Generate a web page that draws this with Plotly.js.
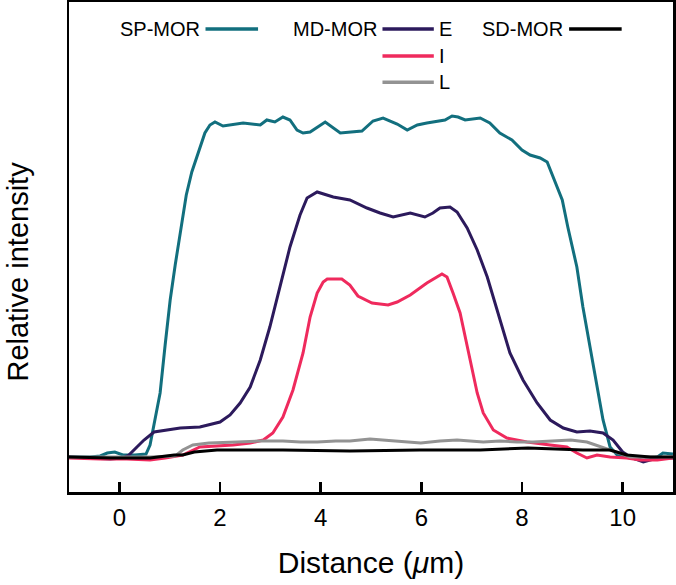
<!DOCTYPE html>
<html>
<head>
<meta charset="utf-8">
<script src="https://cdn.plot.ly/plotly-3.0.1.min.js"></script>
<style>
  html, body { margin: 0; padding: 0; background: #ffffff; }
  #chart { width: 676px; height: 585px; }
</style>
</head>
<body>
<div id="chart"></div>
<script>
// ---- Data (distance in µm, relative intensity in arbitrary units) ----
const spX = [-1.0,-0.58,-0.38,-0.24,-0.09,0.07,0.31,0.53,0.61,0.71,0.81,0.91,1.01,1.11,1.21,1.33,1.44,1.54,1.70,1.80,1.90,2.06,2.46,2.80,2.93,3.09,3.25,3.39,3.53,3.65,3.79,4.09,4.23,4.39,4.82,5.04,5.24,5.52,5.72,5.92,6.11,6.31,6.47,6.61,6.73,6.87,7.17,7.36,7.56,7.80,8.00,8.16,8.36,8.50,8.62,8.80,8.91,9.09,9.21,9.35,9.49,9.61,9.75,9.89,10.15,10.41,10.69,10.80,11.0];
const spY = [0,0,1,4,5,2,2,3,12,37,64,112,157,192,224,262,285,300,324,332,335,331,334,332,337,335,340,337,327,324,325,335,330,324,326,336,339,333,327,332,334,336,337,341,340,337,339,334,324,317,307,302,299,295,280,257,230,190,150,110,70,37,10,2,-1,-3,0,4,3];

const mdEX = [-1.0,-0.58,-0.18,0.06,0.19,0.35,0.49,0.69,0.91,1.21,1.60,1.84,2.00,2.20,2.40,2.60,2.80,2.99,3.19,3.39,3.59,3.73,3.93,4.25,4.58,4.92,5.18,5.44,5.78,6.07,6.23,6.37,6.57,6.71,6.91,7.11,7.31,7.50,7.76,8.02,8.30,8.56,8.82,9.09,9.35,9.61,9.81,10.0,10.19,10.41,10.69,11.0];
const mdEY = [0,-1,-2,-1,2,10,17,25,27,29,30,33,35,42,54,70,97,130,170,210,242,259,265,260,257,249,244,240,244,240,244,249,250,245,229,207,180,147,104,77,54,37,29,25,26,24,17,5,-1,-5,-1,-1];

const mdIX = [-1.0,-0.38,0.15,0.61,0.91,1.26,1.60,2.26,2.60,2.86,3.05,3.25,3.45,3.65,3.79,3.93,4.05,4.13,4.42,4.58,4.74,5.02,5.34,5.52,5.78,6.11,6.41,6.51,6.63,6.77,6.83,6.97,7.11,7.23,7.43,7.70,8.10,8.56,8.89,9.09,9.29,9.49,9.75,10.08,10.35,10.69,11.0];
const mdIY = [-1,-2,-2,-3,-1,2,10,12,14,17,24,40,67,104,140,164,175,178,178,172,161,154,152,155,162,174,183,180,164,144,130,97,64,44,27,19,15,12,10,4,-1,2,0,-1,-3,-3,-1];

const mdLX = [-1.0,0.61,1.11,1.26,1.46,1.78,2.34,2.80,3.25,3.60,3.93,4.30,4.58,4.98,5.48,5.99,6.37,6.71,7.23,7.56,7.90,8.22,8.60,8.97,9.29,9.59,9.91,10.15,11.0];
const mdLY = [0,0,1,7,12,14,15,16,16,15,15,16,16,18,16,14,16,17,15,16,15,15,16,17,15,10,4,0,0];

const sdX = [-1.0,-0.18,0.61,1.09,1.26,1.49,1.94,3.25,4.58,5.97,7.17,8.12,9.21,9.75,10.08,10.55,11.0];
const sdY = [0,-1,-1,2,2,5,7,7,6,7,7,9,7,7,2,0,0];

const xTicks = [0, 2, 4, 6, 8, 10];
const seriesNames = ['SP-MOR', 'MD-MOR E', 'MD-MOR I', 'MD-MOR L', 'SD-MOR'];
const seriesColors = ['#126f7e', '#2c1a5c', '#ef2a5d', '#939393', '#000000'];

const xs = [spX, mdEX, mdIX, mdLX, sdX];
const ys = [spY, mdEY, mdIY, mdLY, sdY];

const traces = xs.map((x, i) => ({
  x: x, y: ys[i], type: 'scatter', mode: 'lines', name: seriesNames[i],
  line: { color: seriesColors[i], width: 3, shape: 'linear' },
  showlegend: false, hoverinfo: 'skip'
}));

const FONT = 'Liberation Sans, Arial, sans-serif';

// ---- custom legend (text + sample lines in paper coordinates) ----
const legRows = [0.945, 0.890, 0.836];
const legendItems = [
  { label: 'SP-MOR', side: 'left', x0: 0.226, x1: 0.313, row: 0, c: 0 },
  { label: 'MD-MOR', side: 'left', x0: 0.519, x1: 0.604, row: 0, c: 1 },
  { label: 'E', side: 'right', x0: 0.519, x1: 0.604, row: 0, c: 1 },
  { label: 'I', side: 'right', x0: 0.519, x1: 0.604, row: 1, c: 2 },
  { label: 'L', side: 'right', x0: 0.519, x1: 0.604, row: 2, c: 3 },
  { label: 'SD-MOR', side: 'left', x0: 0.828, x1: 0.915, row: 0, c: 4 }
];
const shapes = [];
const annotations = [];
const seenLines = {};
legendItems.forEach(it => {
  const key = it.x0 + '_' + it.row;
  if (!seenLines[key]) {
    seenLines[key] = true;
    shapes.push({ type: 'line', xref: 'paper', yref: 'paper', x0: it.x0, x1: it.x1,
      y0: legRows[it.row], y1: legRows[it.row], line: { color: seriesColors[it.c], width: 3.5 } });
  }
  annotations.push({
    xref: 'paper', yref: 'paper', showarrow: false,
    x: it.side === 'left' ? it.x0 - 0.006 : it.x1 + 0.006,
    xanchor: it.side === 'left' ? 'right' : 'left',
    y: legRows[it.row], yanchor: 'middle',
    text: it.label, font: { family: FONT, size: 20, color: '#000' }
  });
});
// y axis title
annotations.push({
  xref: 'paper', yref: 'paper', showarrow: false,
  x: -0.086, xanchor: 'center', y: 0.45, yanchor: 'middle', textangle: -90,
  text: 'Relative intensity', font: { family: FONT, size: 29, color: '#000' }
});

const layout = {
  width: 676, height: 585,
  margin: { l: 69, r: 3, t: 2, b: 93, pad: 0 },
  paper_bgcolor: '#ffffff', plot_bgcolor: '#ffffff',
  showlegend: false,
  font: { family: FONT, color: '#000' },
  xaxis: {
    range: [-1.0, 11.0], tickvals: xTicks, ticktext: xTicks.map(String),
    ticks: 'inside', ticklen: 10, tickwidth: 2.5, tickcolor: '#000',
    showline: true, linecolor: '#000', linewidth: 2.5, mirror: true,
    showgrid: false, zeroline: false,
    tickfont: { family: FONT, size: 24, color: '#000' },
    ticklabelstandoff: 3,
    title: { text: 'Distance (<i>μ</i>m)', font: { family: FONT, size: 30, color: '#000' }, standoff: 22 }
  },
  yaxis: {
    range: [-35, 455], showticklabels: false, ticks: '',
    showline: true, linecolor: '#000', linewidth: 2.5, mirror: true,
    showgrid: false, zeroline: false
  },
  shapes: shapes,
  annotations: annotations
};

Plotly.newPlot('chart', traces, layout, { staticPlot: true, displayModeBar: false });
</script>
</body>
</html>
